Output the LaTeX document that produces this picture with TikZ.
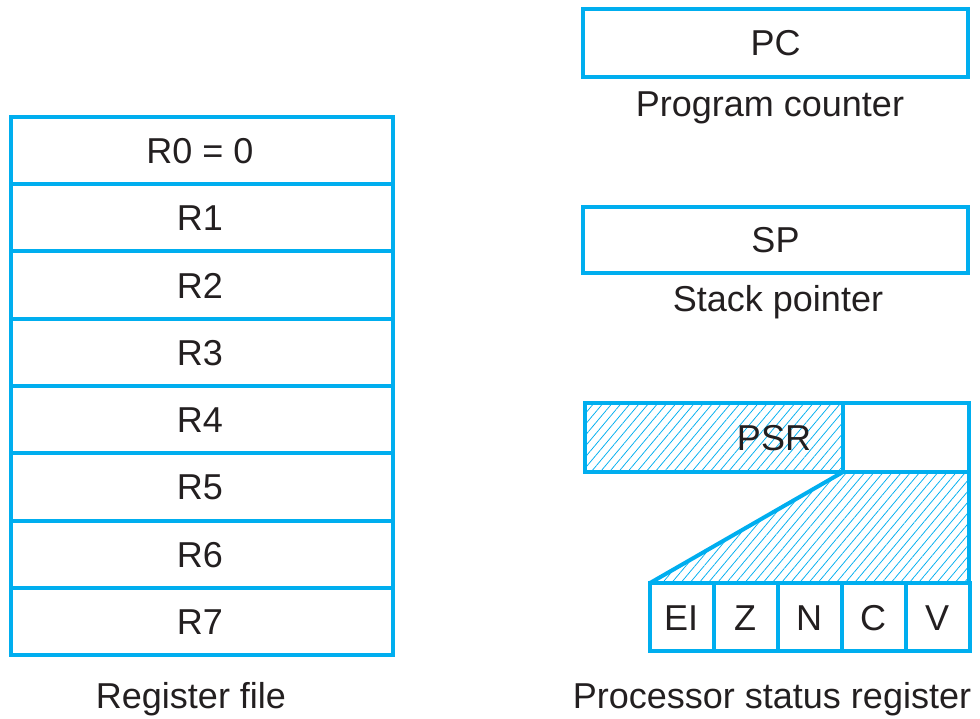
\documentclass[tikz,border=0pt]{standalone}
\usepackage{fontspec}
\setmainfont{Liberation Sans}
\usetikzlibrary{patterns.meta}
\definecolor{cy}{HTML}{00AEEF}
\definecolor{ink}{HTML}{231F20}
\tikzset{
  cell/.style={draw=cy, line width=4pt, inner sep=0pt, text=ink,
    font=\fontsize{36}{36}\selectfont},
  lbl/.style={anchor=base, inner sep=0pt, text=ink, font=\fontsize{36}{36}\selectfont},
  hatch/.style={pattern={Lines[angle=50,distance=7pt,line width=0.75pt]}, pattern color=cy},
  edge/.style={draw=cy, line width=4pt, line join=miter}
}
\begin{document}
\begin{tikzpicture}[x=1pt,y=-1pt]
\useasboundingbox (0,0) rectangle (980,719);
% register file
\foreach \i/\t in {0/R0 = 0,1/R1,2/R2,3/R3,4/R4,5/R5,6/R6,7/R7}{
  \node[cell, minimum width=382pt, minimum height=67.25pt] (r\i) at (202,{117+67.25*(\i+0.5)}) {};
  \node[lbl] (rt\i) at (200,{117+67.25*(\i+0.5)+13}) {\t};
}
\node[lbl] (rflbl) at (191,708) {Register file};
% PC
\node[cell, minimum width=385pt, minimum height=68pt] (pc) at (775.5,43) {};
\node[lbl] (pct) at (775.5,56) {PC};
\node[lbl] (pclbl) at (770,116.5) {Program counter};
% SP
\node[cell, minimum width=385pt, minimum height=66pt] (sp) at (775.5,240) {};
\node[lbl] (spt) at (775.5,253) {SP};
\node[lbl] (splbl) at (778,311.5) {Stack pointer};
% PSR
\coordinate (pA) at (585,403);
\coordinate (pB) at (843,472);
\coordinate (pC) at (969,403);
\coordinate (tR) at (969,583);
\coordinate (tL) at (650,583);
\fill[hatch] (pA) rectangle (pB);
\fill[hatch] (pB) -- (969,472) -- (tR) -- (tL) -- cycle;
\draw[edge] (pA) rectangle (pB);
\draw[edge] (pB) rectangle (pC);
\draw[edge] (pB) -- (tL);
\draw[edge] (969,472) -- (tR);
\node[lbl] (psrt) at (774,450.5) {PSR};
\foreach \i/\t in {0/EI,1/Z,2/N,3/C,4/V}{
  \node[cell, minimum width=64pt, minimum height=68pt] (f\i) at ({682+64*\i},617) {};
  \node[lbl] (ft\i) at ({681+64*\i},630) {\t};
}
\node[lbl] (psrlbl) at (772,708) {Processor status register};
\end{tikzpicture}
\end{document}
